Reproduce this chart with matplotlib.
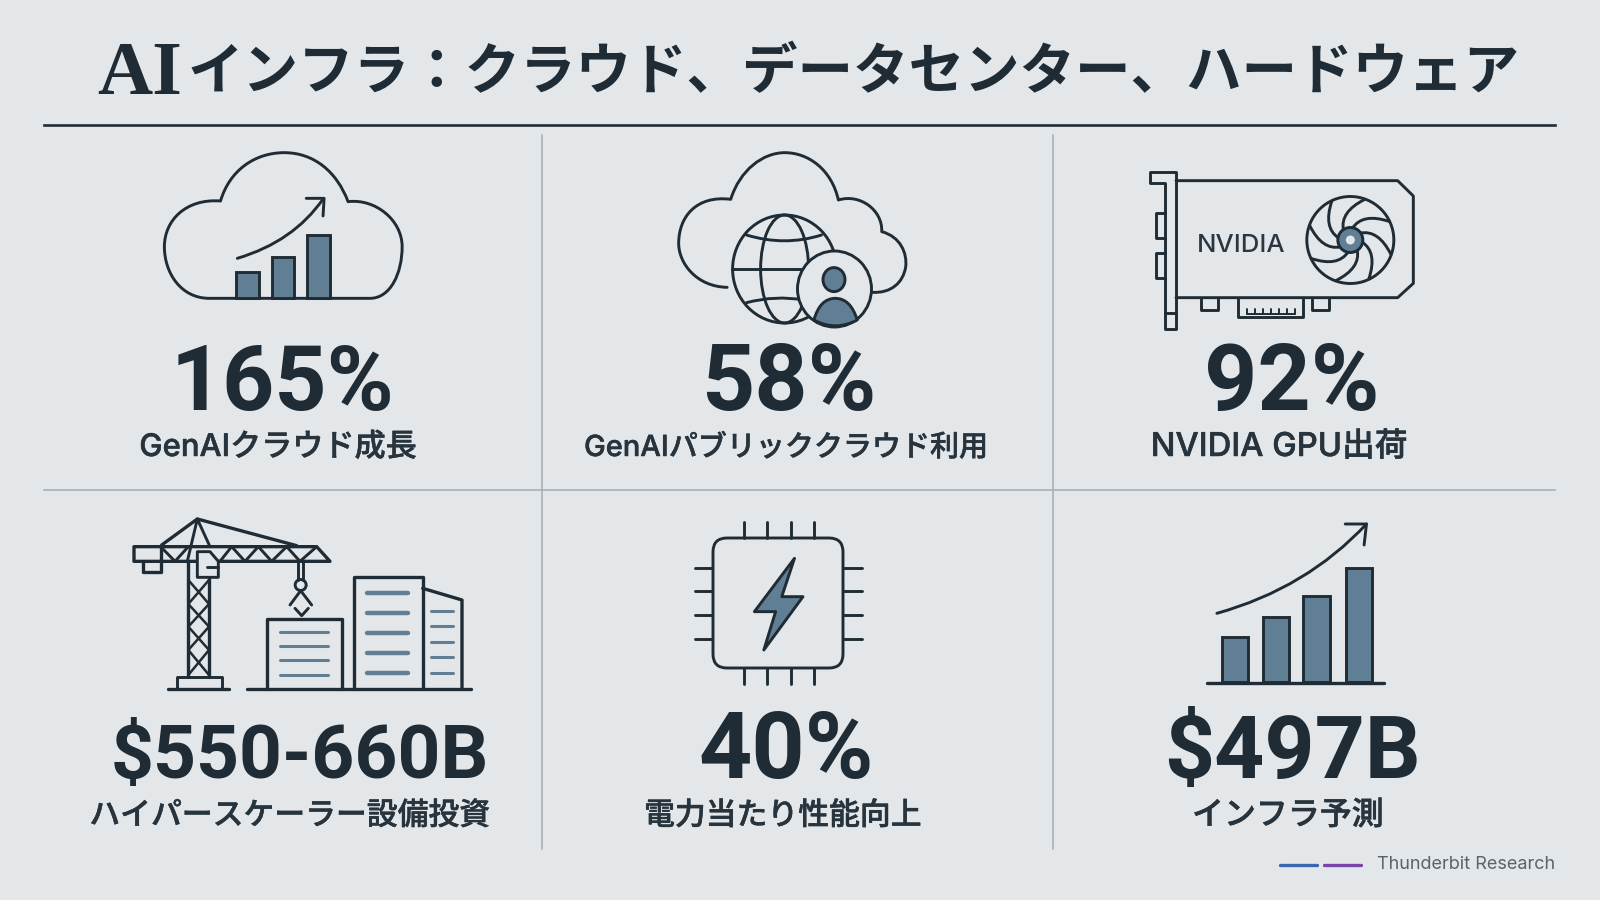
import numpy as np
import matplotlib
matplotlib.use('Agg')
import matplotlib.pyplot as plt
import matplotlib.patheffects as pe
from matplotlib.path import Path
from matplotlib.patches import PathPatch, Ellipse, FancyBboxPatch, Polygon

# chart content
title_latin = 'AI'
title_rest = 'インフラ：クラウド、データセンター、ハードウェア'
values = ['165%', '58%', '92%', '$550-660B', '40%', '$497B']
labels = ['GenAIクラウド成長', 'GenAIパブリッククラウド利用', 'NVIDIA GPU出荷',
          'ハイパースケーラー設備投資', '電力当たり性能向上', 'インフラ予測']
value_x = [282, 789, 1292, 300, 786, 1292]
label_x = [278, 786, 1279, 290, 783, 1288]
value_size = [65.5, 67, 67, 54, 67, 63]
label_size = [22.4, 20.9, 23.6, 22.2, 22.2, 23]
cloud_bars = [80, 125, 191]
forecast_bars = [135, 197, 260, 344]
source = 'Thunderbit Research'

# colours
BG = '#e4e7ea'
INK = '#1f2c35'
SLATE = '#617f94'
RULE = '#a9b1b7'
LABEL_INK = '#27343d'

fig = plt.figure(figsize=(16, 9), dpi=100, facecolor=BG)
ax = fig.add_axes([0, 0, 1, 1])
ax.set_xlim(0, 1600)
ax.set_ylim(900, 0)
ax.axis('off')

LW = 2.1


def to_px(pts, box):
    # box is (left, top, x scale, y scale) of the sketch the points were read from
    pts = np.asarray(pts, dtype=float)
    return np.column_stack([box[0] + pts[:, 0] / box[2], box[1] + pts[:, 1] / box[3]])


def poly(pts, box, closed=False, fc='none', lw=LW, ec=INK, z=3):
    ax.add_patch(Polygon(to_px(pts, box), closed=closed, fc=fc, ec=ec, lw=lw, zorder=z,
                         joinstyle='round', capstyle='round'))


def curve(start, segments, box, closed=False, fc='none', lw=LW, z=3):
    # segments are tuples of 1 (line), 2 (quadratic) or 3 (cubic) points
    verts = [start]
    codes = [Path.MOVETO]
    for seg in segments:
        verts.extend(seg)
        codes.extend({1: [Path.LINETO], 2: [Path.CURVE3] * 2, 3: [Path.CURVE4] * 3}[len(seg)])
    if closed:
        verts.append(start)
        codes.append(Path.CLOSEPOLY)
    ax.add_patch(PathPatch(Path(to_px(verts, box), codes), fc=fc, ec=INK, lw=lw, zorder=z,
                           capstyle='round', joinstyle='round'))


def ellipse(cx, cy, rx, ry, fc='none', lw=LW, z=3):
    ax.add_patch(Ellipse((cx, cy), 2 * rx, 2 * ry, fc=fc, ec=INK, lw=lw, zorder=z))


def bars(xs, widths, heights, base, box, z=4):
    px = to_px(np.column_stack([xs, np.full(len(xs), base)]), box)
    w = np.asarray(widths) / box[2]
    h = np.asarray(heights) / box[3]
    ax.bar(px[:, 0], -h, width=w, bottom=px[:, 1], align='edge', color=SLATE, edgecolor=INK,
           linewidth=LW, zorder=z)


# title and rules
ax.text(97, 94, title_latin, ha='left', va='baseline', fontsize=55, fontweight='bold', color=INK,
        family=['Liberation Serif'])
ax.text(1520, 89, title_rest, ha='right', va='baseline', fontsize=40, fontweight='bold', color=INK,
        family=['Noto Sans CJK JP'])
ax.plot([44, 1555], [124.5, 124.5], color=INK, lw=1.9, zorder=2)
ax.plot([44, 1555], [490, 490], color=RULE, lw=1.2, zorder=1)
ax.plot([541.5, 541.5], [135, 849], color=RULE, lw=1.2, zorder=1)
ax.plot([1053, 1053], [135, 849], color=RULE, lw=1.2, zorder=1)

# big numbers and captions
for i in range(6):
    y_val = 410 if i < 3 else 778
    y_lab = 456 if i < 3 else 824.5
    ax.text(value_x[i], y_val, values[i], ha='center', va='baseline', fontsize=value_size[i], fontweight='bold',
            color=INK, family=['Roboto', 'DejaVu Sans'])
    t = ax.text(label_x[i], y_lab, labels[i], ha='center', va='baseline', fontsize=label_size[i],
                fontweight='medium', color=LABEL_INK, family=['Inter', 'Noto Sans CJK JP', 'DejaVu Sans'])
    # the captions are a little heavier than the regular face
    t.set_path_effects([pe.withStroke(linewidth=0.35, foreground=LABEL_INK)])

# cloud with growth bars
b = (120, 130, 1.96, 3)
curve((175, 505), [((120, 505), (87, 430), (87, 350)),
                   ((87, 270), (130, 205), (197, 213)),
                   ((215, 120), (265, 68), (322, 68)),
                   ((380, 68), (425, 125), (447, 215)),
                   ((500, 205), (553, 270), (553, 350)),
                   ((553, 430), (530, 505), (490, 505)),
                   ((175, 505),)], b, closed=True)
bars([228, 297, 366], [44, 45, 45], cloud_bars, 505, b)
curve((230, 385), [((340, 335), (398, 207))], b)
poly([(365, 205), (400, 205), (398, 258)], b)

# cloud with globe and user
curve((1190, 472), [((1130, 470), (1095, 400), (1095, 340)),
                    ((1095, 260), (1130, 195), (1197, 208)),
                    ((1215, 120), (1260, 68), (1303, 68)),
                    ((1350, 68), (1395, 120), (1408, 210)),
                    ((1450, 190), (1495, 240), (1493, 305)),
                    ((1530, 320), (1543, 370), (1540, 410)),
                    ((1535, 460), (1510, 490), (1475, 487))], b)
ellipse(784.6, 269, 52, 54, fc=BG, z=4)
ellipse(784.6, 269, 24, 54, z=4)
poly([(1200, 418), (1340, 418)], b, z=4)
curve((1228, 315), [((1303, 350), (1375, 315))], b, z=4)
curve((1228, 518), [((1285, 495), (1340, 510))], b, z=4)
ellipse(834.5, 289, 37, 38, fc=BG, z=5)
ellipse(834, 279.6, 11, 12, fc=SLATE, z=6)
curve((1360, 570), [((1372, 505), (1402, 505)), ((1432, 505), (1445, 570)),
                    ((1402, 605), (1360, 570))], b, fc=SLATE, z=6)

# graphics card
b = (1100, 150, 3, 3)
poly([(150, 65), (228, 65), (228, 538), (195, 538), (195, 98), (150, 98)], b, closed=True)
poly([(195, 488), (228, 488)], b)
poly([(228, 92), (893, 92), (940, 138), (940, 400), (893, 443), (228, 443)], b)
for tab in [(190, 265), (308, 385)]:
    poly([(195, tab[0]), (168, tab[0]), (168, tab[1]), (195, tab[1])], b)
poly([(302, 448), (302, 480), (355, 480), (355, 448)], b)
poly([(637, 448), (637, 480), (687, 480), (687, 448)], b)
poly([(413, 448), (413, 502), (608, 502), (608, 448)], b)
poly([(440, 492), (585, 492)], b, lw=1.4)
for x in range(440, 590, 24):
    poly([(x, 492), (x, 478)], b, lw=1.4)
ax.text(1241, 252, 'NVIDIA', ha='center', va='baseline', fontsize=18.5, fontweight='medium', color='#2a3740',
        family=['Inter', 'DejaVu Sans'])
fan_x, fan_y = 1100 + 751 / 3, 150 + 270 / 3
ellipse(fan_x, fan_y, 43.5, 43.5)
for a in np.deg2rad(np.arange(0, 360, 45) + 10):
    p0 = (fan_x + 12 * np.cos(a), fan_y + 12 * np.sin(a))
    p1 = (fan_x + 30 * np.cos(a + 0.25), fan_y + 30 * np.sin(a + 0.25))
    p2 = (fan_x + 43 * np.cos(a + 0.95), fan_y + 43 * np.sin(a + 0.95))
    curve(p0, [(p1, p2)], (0, 0, 1, 1))
ellipse(fan_x, fan_y, 12.5, 12.5, fc=SLATE, z=4)
ax.add_patch(Ellipse((fan_x, fan_y), 9, 9, fc='#dfe5e9', ec='none', zorder=5))

# tower crane
b = (110, 500, 3, 3)
poly([(72, 140), (620, 140), (660, 184), (72, 184)], b, closed=True, lw=2.4)
poly([(98, 184), (98, 215), (152, 215), (152, 140)], b, lw=2.4)
poly([(155, 135), (262, 57), (560, 137)], b, lw=2.4)
poly([(232, 184), (262, 57), (300, 140)], b)
poly([(152, 140), (195, 184), (235, 140)], b)
poly([(330, 184), (365, 140), (405, 184), (445, 140), (485, 184), (530, 140), (570, 184), (620, 140)], b)
poly([(235, 184), (235, 530)], b, lw=2.4)
poly([(297, 232), (297, 530)], b, lw=2.4)
mast_y = [240, 312, 380, 450, 525]
for y0, y1 in zip(mast_y[:-1], mast_y[1:]):
    poly([(235, y0), (297, y1)], b, lw=1.8)
    poly([(297, y0), (235, y1)], b, lw=1.8)
poly([(262, 155), (300, 155), (325, 184), (325, 232), (262, 232)], b, closed=True, fc=BG, z=4)
poly([(290, 200), (325, 200)], b, z=4)
poly([(200, 565), (200, 532), (335, 532), (335, 565)], b)
poly([(175, 568), (358, 568)], b, lw=2.4)
# hook
poly([(565, 184), (565, 240)], b)
poly([(580, 184), (580, 240)], b)
ellipse(110 + 572 / 3, 500 + 255 / 3, 5.5, 5.5)
poly([(540, 315), (572, 272), (605, 315)], b)
poly([(555, 325), (575, 347), (595, 325)], b)
# buildings
poly([(412, 568), (1083, 568)], b, lw=2.4)
poly([(470, 568), (470, 356), (695, 356), (695, 568)], b, lw=2.4)
poly([(732, 568), (732, 230), (938, 230), (938, 568)], b, lw=2.4)
poly([(938, 265), (1056, 300), (1056, 568)], b, lw=2.4)
for y in [397, 437, 480, 524]:
    poly([(510, y), (655, y)], b, ec=SLATE, lw=2.2)
for y in [280, 340, 400, 460, 520]:
    poly([(772, y), (895, y)], b, ec=SLATE, lw=3.2)
for y in [332, 378, 425, 472, 520]:
    poly([(962, y), (1028, y)], b, ec=SLATE, lw=2.2)

# chip with bolt
b = (660, 500, 2.119, 3)
ax.add_patch(FancyBboxPatch((727, 552), 102, 102, boxstyle='round,pad=14,rounding_size=14', fc='none',
                            ec=INK, lw=LW, zorder=3))
for x in [177, 227, 277, 327]:
    poly([(x, 65), (x, 113)], b)
    poly([(x, 505), (x, 552)], b)
for y in [205, 273, 345, 416]:
    poly([(75, y), (111, y)], b)
    poly([(390, y), (428, y)], b)
poly([(285, 175), (200, 335), (245, 335), (220, 450), (303, 290), (258, 290)], b, closed=True, fc=SLATE)

# forecast bars
bars([1190, 1277, 1363, 1453], [55, 56, 57, 55], forecast_bars, 547, b)
poly([(1160, 548), (1535, 548)], b, lw=2.4)
curve((1180, 340), [((1370, 265), (1497, 72))], b)
poly([(1452, 72), (1497, 72), (1492, 135)], b)

# footer
ax.plot([1280, 1317], [865, 865], color='#3a66b0', lw=2.4, solid_capstyle='round')
ax.plot([1324, 1361], [865, 865], color='#7a44a8', lw=2.4, solid_capstyle='round')
ax.text(1555, 869, source, ha='right', va='baseline', fontsize=13, color='#5b6368',
        family=['Inter', 'DejaVu Sans'])

fig.savefig('out.png', dpi=100, facecolor=BG)
